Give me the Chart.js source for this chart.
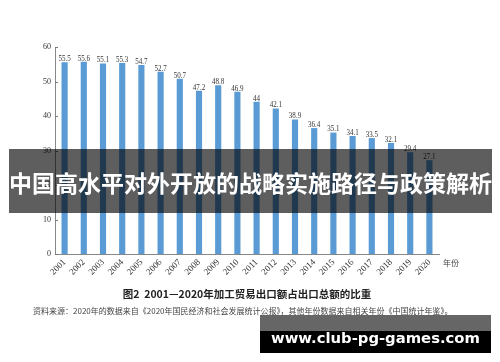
<!DOCTYPE html>
<html>
<head>
<meta charset="utf-8">
<script src="https://cdn.jsdelivr.net/npm/chart.js@4.4.1/dist/chart.umd.min.js"></script>
<style>
  html, body { margin: 0; padding: 0; background: #fff; }
  #wrap { position: relative; width: 500px; height: 362px; overflow: hidden; }
  #myChart { position: absolute; left: 0; top: 0; }
  .txt { position: absolute; white-space: nowrap; font-family: "Noto Sans CJK SC", sans-serif; }
  #banner { left: 9px; top: 149px; width: 483px; height: 64px; background: rgba(0,0,0,0.63); }
  #bannerText { left: 0; top: 22px; width: 483px; text-align: center; color: #fff; font-weight: bold; font-size: 23px; line-height: 23px; }
  #caption { left: 0; top: 288px; width: 494px; text-align: center; color: #222; font-weight: bold; font-size: 10.5px; line-height: 11px; }
  #source { left: 33px; top: 307px; color: #444; font-size: 8px; line-height: 8px; }
  #mark { left: 260px; top: 315px; width: 231px; height: 38px; background: linear-gradient(#666 0, #666 16px, #000 16px, #000 38px); }
  #markText { left: 11px; top: 12px; color: #fff; font-family: "DejaVu Sans", sans-serif; font-weight: bold; font-size: 18px; line-height: 22px; }
</style>
</head>
<body>
<div id="wrap">
  <canvas id="myChart" width="500" height="362"></canvas>
  <div class="txt" id="caption">图2&nbsp;&nbsp;2001—2020年加工贸易出口额占出口总额的比重</div>
  <div class="txt" id="source">资料来源：2020年的数据来自《2020年国民经济和社会发展统计公报》，其他年份数据来自相关年份《中国统计年鉴》。</div>
  <div class="txt" id="banner"><div class="txt" id="bannerText">中国高水平对外开放的战略实施路径与政策解析</div></div>
  <div class="txt" id="mark"><div class="txt" id="markText">www.club-pg-games.com</div></div>
</div>
<script>
var years = ['2001','2002','2003','2004','2005','2006','2007','2008','2009','2010',
             '2011','2012','2013','2014','2015','2016','2017','2018','2019','2020'];
var shares = [55.5, 55.6, 55.1, 55.3, 54.7, 52.7, 50.7, 47.2, 48.8, 46.9,
              44, 42.1, 38.9, 36.4, 35.1, 34.1, 33.5, 32.1, 29.4, 27.1];
var yTicks = [0, 10, 20, 30, 40, 50, 60];
var xUnit = '年份';

// fit the watermark text to its box
(function () {
  var el = document.getElementById('markText');
  var w = el.getBoundingClientRect().width;
  el.style.fontSize = (18 * 209 / w) + 'px';
})();

// value labels, inward ticks on the y axis, unit label
var extras = {
  id: 'extras',
  afterDatasetsDraw(chart) {
    var ctx = chart.ctx;
    var meta = chart.getDatasetMeta(0);
    ctx.save();
    ctx.fillStyle = '#333';
    ctx.font = '9px "Liberation Serif", serif';
    ctx.textAlign = 'center';
    ctx.textBaseline = 'alphabetic';
    meta.data.forEach(function (bar, i) {
      ctx.save();
      ctx.translate(bar.x, bar.y - 1.5);
      ctx.scale(0.78, 1);
      ctx.fillText(String(shares[i]), 0, 0);
      ctx.restore();
    });
    ctx.restore();

    var y = chart.scales.y;
    var area = chart.chartArea;
    ctx.save();
    ctx.strokeStyle = '#777';
    ctx.lineWidth = 1;
    yTicks.forEach(function (v) {
      var py = Math.round(y.getPixelForValue(v)) + 0.5;
      ctx.beginPath();
      ctx.moveTo(area.left, py);
      ctx.lineTo(area.left + 3, py);
      ctx.stroke();
    });
    ctx.fillStyle = '#444';
    ctx.font = '8px "Noto Sans CJK SC", sans-serif';
    ctx.textAlign = 'left';
    ctx.textBaseline = 'middle';
    ctx.fillText(xUnit, area.right + 4, area.bottom + 9);
    ctx.restore();
  }
};

var ctx = document.getElementById('myChart').getContext('2d');
var chart = new Chart(ctx, {
  type: 'bar',
  data: {
    labels: years,
    datasets: [{
      data: shares,
      backgroundColor: '#5b9bd5',
      borderWidth: 0,
      barThickness: 5.5,
      categoryPercentage: 1,
      barPercentage: 0.3
    }]
  },
  options: {
    responsive: false,
    animation: false,
    events: [],
    layout: { padding: { left: 0, top: 47, right: 61, bottom: 78 } },
    plugins: { legend: { display: false }, tooltip: { enabled: false } },
    scales: {
      x: {
        grid: { display: false, drawTicks: false },
        border: { display: true, color: '#888', width: 1 },
        ticks: {
          color: '#333',
          font: { family: '"Liberation Serif", serif', size: 9 },
          minRotation: 45, maxRotation: 45, padding: 3, autoSkip: false
        },
        afterFit: function (s) { s.height = 30; }
      },
      y: {
        min: 0, max: 60,
        grid: { display: false, drawTicks: false },
        border: { display: true, color: '#888', width: 1 },
        ticks: {
          stepSize: 10,
          color: '#333',
          padding: 4,
          font: { family: '"Liberation Serif", serif', size: 8 }
        },
        afterFit: function (s) { s.width = 55; }
      }
    }
  },
  plugins: [extras]
});
</script>
</body>
</html>
